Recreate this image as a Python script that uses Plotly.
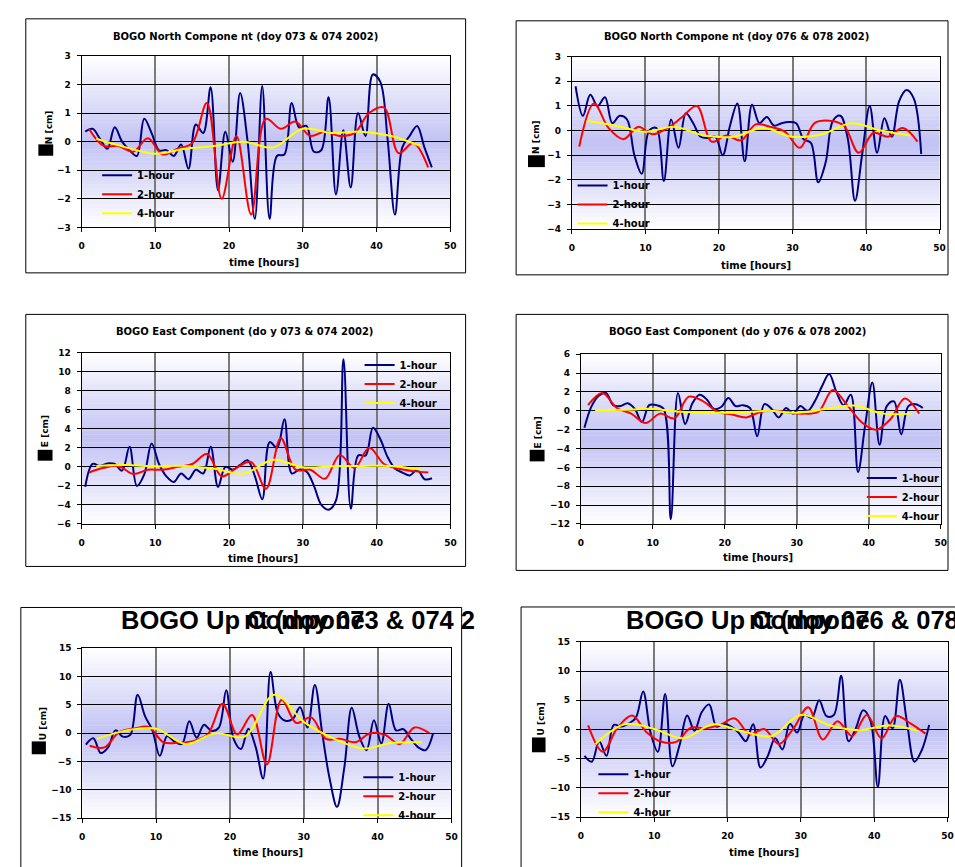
import plotly.graph_objects as go

# ---------------------------------------------------------------------------
# Sample times (hours) for the three averaging intervals
# ---------------------------------------------------------------------------
t_1h = [0.5, 1.5, 2.5, 3.5, 4.5, 5.5, 6.5, 7.5, 8.5, 9.5, 10.5, 11.5,
        12.5, 13.5, 14.5, 15.5, 16.5, 17.5, 18.5, 19.5, 20.5, 21.5, 22.5, 23.5,
        24.5, 25.5, 26.5, 27.5, 28.5, 29.5, 30.5, 31.5, 32.5, 33.5, 34.5, 35.5,
        36.5, 37.5, 38.5, 39.5, 40.5, 41.5, 42.5, 43.5, 44.5, 45.5, 46.5, 47.5]
t_2h = [1, 3, 5, 7, 9, 11, 13, 15, 17, 19, 21, 23,
        25, 27, 29, 31, 33, 35, 37, 39, 41, 43, 45, 47]
t_4h = [2, 6, 10, 14, 18, 22, 26, 30, 34, 38, 42, 46]

series_names = ["1-hour", "2-hour", "4-hour"]

# ---------------------------------------------------------------------------
# North component [cm]
# ---------------------------------------------------------------------------
north_073_1h = [0.35, 0.45, 0.1, -0.25, 0.5, 0.0, -0.3, -0.5, 0.8, 0.3, -0.3, -0.3,
                -0.5, -0.1, -0.95, 0.6, 0.3, 1.9, -1.7, 0.35, -0.7, 1.7, 0.05, -2.7,
                1.95, -2.7, -0.5, -0.45, 1.35, 0.5, 0.55, -0.35, -0.3, 1.55, -1.85, 0.4,
                -1.6, 1.0, 0.2, 2.35, 2.1, 0.1, -2.55, -0.2, 0.2, 0.55, -0.2, -0.9]
north_073_2h = [0.45, -0.15, -0.15, -0.35, 0.12, -0.45, -0.25, -0.05, 1.35, -2.0, 0.2, -2.55,
                0.8, 0.45, 0.7, 0.2, 0.35, 0.2, 0.3, 1.0, 1.2, -0.4, -0.05, -0.9]
north_073_4h = [0.1, -0.2, -0.42, -0.25, -0.15, 0.0, -0.2, 0.45, 0.3, 0.35, 0.2, -0.15]

north_076_1h = [1.8, 0.6, 1.45, 1.0, 1.35, 0.3, 0.6, 0.45, -1.0, -1.75, 0.0, 0.1,
                -2.05, 0.45, -0.7, 0.7, 0.3, -0.25, -0.3, -0.25, -1.0, 0.2, 1.1, -1.25,
                1.05, 0.3, 0.55, 0.2, 0.3, 0.35, 0.3, -0.35, -0.5, -2.1, -1.3, 0.4,
                0.6, -0.3, -2.85, -0.9, 1.0, -0.9, 0.5, -0.25, 1.2, 1.65, 1.3, -0.95]
north_076_2h = [-0.65, 1.1, 0.1, -0.35, 0.15, -0.15, 0.1, 0.55, 1.0, -0.45, -0.2, -0.4,
                0.25, 0.15, -0.05, -0.7, 0.3, 0.4, 0.2, -0.9, -0.1, -0.25, 0.1, -0.45]
north_076_4h = [0.4, 0.2, -0.05, 0.15, -0.2, -0.25, 0.1, -0.25, -0.15, 0.3, 0.0, -0.2]

# ---------------------------------------------------------------------------
# East component [cm]
# ---------------------------------------------------------------------------
east_073_1h = [-2.1, 0.3, 0.1, 0.35, 0.3, -0.4, 2.1, -2.0, -0.8, 2.45, 0.3, -1.0,
               -1.6, -0.7, -1.3, -0.3, -0.7, 2.1, -2.1, 0.0, -0.3, 0.2, 0.7, -1.0,
               -3.4, 2.6, 2.0, 5.0, -0.7, -0.3, -0.5, -2.0, -4.0, -4.5, -3.5, 11.3,
               -4.4, 1.2, 1.2, 4.1, 2.9, 1.0, -0.2, -0.6, -0.9, -0.3, -1.3, -1.2]
east_073_2h = [-0.6, -0.1, 0.1, -0.75, -0.3, -0.3, 0.0, 0.3, 1.35, -1.0, -0.1, 0.5,
               -2.3, 3.0, -0.3, -0.3, -1.25, 1.25, -0.1, 2.0, 0.3, -0.2, -0.45, -0.6]
east_073_4h = [0.1, 0.2, 0.05, 0.1, -0.2, -0.7, 0.75, -0.05, 0.05, 0.1, 0.1, -0.3]

east_076_1h = [-1.8, 0.5, 1.6, 1.9, 0.6, 0.5, 0.8, 0.2, -1.2, 0.6, 0.6, 0.2,
               -11.5, 1.9, -1.4, 0.8, 1.7, 1.2, 0.2, 0.4, 1.35, 0.5, 0.6, 0.3,
               -2.7, 0.7, 0.2, -0.7, 0.3, -0.3, 0.5, 0.0, 1.0, 2.6, 3.9, 2.0,
               0.6, 1.7, -6.5, -1.5, 3.0, -3.6, 0.5, 1.0, -2.5, 0.5, 0.7, 0.3]
east_076_2h = [0.6, 1.9, 0.3, -0.3, -1.3, -0.3, -0.8, 1.5, 1.0, -0.1, -0.4, -0.7,
               -0.1, 0.0, -0.2, -0.3, -0.1, 2.2, 0.6, -1.2, -2.0, -0.9, 1.3, -0.3]
east_076_4h = [0.05, 0.1, 0.2, -0.1, -0.2, -0.2, 0.0, -0.2, 0.2, 0.55, -0.3, -0.3]

# ---------------------------------------------------------------------------
# Up component [cm]
# ---------------------------------------------------------------------------
up_073_1h = [-2.0, -0.9, -3.5, -2.5, 0.5, -0.6, -0.3, 6.8, 3.0, 0.5, -4.0, -0.5,
             -1.5, -1.9, 2.1, -0.8, 1.5, 0.4, 1.0, 7.6, -1.0, -2.8, 0.8, -2.5,
             -8.0, 10.8, 3.5, 2.2, 2.5, 4.6, 1.0, 8.5, 0.0, -8.0, -13.0, -6.0,
             4.5, -0.5, -3.0, 2.3, -1.8, 5.2, 0.5, 0.7, -1.0, -2.5, -3.0, -0.1]
up_073_2h = [-2.2, -2.5, 0.2, 0.8, 1.1, -1.6, -1.7, -1.4, -0.2, 5.2, -0.2, 3.2,
             -5.5, 5.9, 1.8, 2.8, -1.0, -1.0, -1.6, 0.0, -0.3, -1.9, 1.0, 0.0]
up_073_4h = [-1.0, 0.5, 0.8, -1.9, 0.0, -0.6, 6.8, 2.0, -0.9, -2.7, -1.7, -1.6]

up_076_1h = [-4.5, -5.5, -2.0, -4.5, 0.8, 0.5, 1.0, 2.0, 6.5, -0.5, -3.8, 6.1,
             -6.3, -2.5, 2.4, -0.2, 3.0, 4.3, 0.5, 1.0, 0.5, -0.5, -2.0, 0.9,
             -6.5, -4.5, -1.5, -3.4, 1.0, -0.5, 2.5, 2.0, 5.0, 2.3, 2.5, 9.2,
             -2.0, 0.2, 3.3, 1.5, -9.8, 2.3, 0.2, 8.5, 1.0, -5.5, -3.5, 0.8]
up_076_2h = [0.7, -3.8, 0.3, 2.4, -0.5, -2.1, -2.1, 0.3, 0.2, 0.8, 1.9, -0.8,
             0.1, -2.5, 0.2, 3.8, -1.7, 1.4, -1.1, 2.5, -1.5, 2.3, 1.0, -0.7]
up_076_4h = [-2.5, 0.9, 0.1, -1.5, 0.9, -0.3, -1.1, 2.5, 0.7, -0.1, 0.7, -0.2]

# ---------------------------------------------------------------------------
# Page geometry helpers (pixel -> paper fraction)
# ---------------------------------------------------------------------------
FIG_W, FIG_H = 955, 867


def px(x):
    return x / FIG_W


def py(y):
    return 1 - y / FIG_H


LINE_COLORS = ["#000080", "#ff0000", "#ffff00"]
TEXT_FONT = "DejaVu Sans"
GRAD_MID = (194, 194, 244)

panels = [
    dict(series=(north_073_1h, north_073_2h, north_073_4h), yrange=(-3, 3), dtick=1,
         plot=(79.3, 51.5, 451.5, 225.0), frame=(23, 14, 467, 271),
         title="BOGO North Compone nt (doy 073 & 074 2002)", title_xy=(244.5, 31.7),
         ytitle="N [cm]", ytitle_xy=(46, 124), box=(35.7, 141, 50.7, 152.5),
         xtitle_xy=(263, 260.7), legend_xy=(103, 172)),
    dict(series=(north_076_1h, north_076_2h, north_076_4h), yrange=(-4, 3), dtick=1,
         plot=(574.3, 52.3, 945.5, 226.7), frame=(518, 16, 954, 273),
         title="BOGO North Compone nt (doy 076 & 078 2002)", title_xy=(740, 31.7),
         ytitle="N [cm]", ytitle_xy=(538.5, 133), box=(530, 152, 547, 164),
         xtitle_xy=(760, 263.3), legend_xy=(583, 182.5)),
    dict(series=(east_073_1h, east_073_2h, east_073_4h), yrange=(-6, 12), dtick=2,
         plot=(79.3, 351.7, 451.7, 525.0), frame=(23, 313, 467, 568),
         title="BOGO East Component (do y 073 & 074 2002)", title_xy=(244, 330.7),
         ytitle="E [cm]", ytitle_xy=(42.5, 431), box=(35, 450, 50, 461),
         xtitle_xy=(262.5, 560), legend_xy=(368, 364)),
    dict(series=(east_076_1h, east_076_2h, east_076_4h), yrange=(-12, 6), dtick=2,
         plot=(583.3, 353.3, 946.7, 525.0), frame=(518, 313, 954, 572),
         title="BOGO East Component (do y 076 & 078 2002)", title_xy=(741.7, 330),
         ytitle="E [cm]", ytitle_xy=(540.5, 432), box=(531.7, 450, 546.7, 461.7),
         xtitle_xy=(761.7, 559.3), legend_xy=(875, 478.3)),
    dict(series=(up_073_1h, up_073_2h, up_073_4h), yrange=(-15, 15), dtick=5,
         plot=(80.0, 650.7, 452.7, 822.7), frame=(18, 609.5, 463, 900),
         big_title=("BOGO Up Compone", "nt (doy 073 & 074 2"), big_xy=(117, 241, 622.5),
         ytitle="U [cm]", ytitle_xy=(40, 727), box=(29, 745, 43.3, 758),
         xtitle_xy=(267.5, 857), legend_xy=(366.7, 781)),
    dict(series=(up_076_1h, up_076_2h, up_076_4h), yrange=(-15, 15), dtick=5,
         plot=(583.3, 644.3, 953.5, 821.7), frame=(523, 609, 962, 900),
         big_title=("BOGO Up Compone", "nt (doy 076 & 078 2002)"), big_xy=(627, 751, 622.5),
         ytitle="U [cm]", ytitle_xy=(543, 722), box=(534, 741, 547.7, 756),
         xtitle_xy=(768.5, 857), legend_xy=(604, 778)),
]

fig = go.Figure()
shapes = []
annotations = []
layout_extra = {}

for i, p in enumerate(panels):
    n = i + 1
    sfx = "" if n == 1 else str(n)
    xid, yid = "x" + sfx, "y" + sfx
    legend_id = "legend" + sfx
    x0, y0, x1, y1 = p["plot"]

    # three smoothed series
    for name, ts, vals, col in zip(series_names, (t_1h, t_2h, t_4h), p["series"], LINE_COLORS):
        fig.add_trace(go.Scatter(
            x=ts, y=vals, name=name, mode="lines",
            line=dict(color=col, width=2, shape="spline", smoothing=1.0),
            xaxis=xid, yaxis=yid, legend=legend_id, showlegend=True,
            hoverinfo="skip"))

    tickfont = dict(family=TEXT_FONT, size=9, color="black", weight="bold")
    layout_extra["xaxis" + sfx] = dict(
        domain=[px(x0), px(x1)], anchor=yid, range=[0, 50],
        tickmode="linear", tick0=0, dtick=10,
        showgrid=True, gridcolor="#7a7a7a", gridwidth=1.5,
        showline=True, linecolor="black", linewidth=1, mirror=True,
        ticks="outside", ticklen=4, tickcolor="black", tickwidth=1,
        ticklabelstandoff=6, tickfont=tickfont, zeroline=False, fixedrange=True)
    ylo, yhi = p["yrange"]
    layout_extra["yaxis" + sfx] = dict(
        domain=[py(y1), py(y0)], anchor=xid, range=[ylo, yhi],
        tickmode="linear", tick0=ylo, dtick=p["dtick"],
        showgrid=True, gridcolor="black", gridwidth=1,
        showline=True, linecolor="black", linewidth=1, mirror=True,
        ticks="outside", ticklen=4, tickcolor="black", tickwidth=1,
        ticklabelstandoff=4, tickfont=tickfont, zeroline=False, fixedrange=True)

    # white -> lavender -> white background inside the plotting area
    nb = 44
    for k in range(nb):
        t0, t1 = k / nb, (k + 1) / nb
        tm = (t0 + t1) / 2
        w = 1 - abs(2 * tm - 1)
        r, g, b = (round(255 + (c - 255) * w) for c in GRAD_MID)
        shapes.append(dict(type="rect", xref=xid + " domain", yref=yid + " domain",
                           x0=0, x1=1, y0=1 - t1 - 0.002, y1=1 - t0,
                           fillcolor=f"rgb({r},{g},{b})", line=dict(width=0),
                           layer="below"))

    # chart frame
    fx0, fy0, fx1, fy1 = p["frame"]
    shapes.append(dict(type="rect", xref="paper", yref="paper",
                       x0=px(fx0), x1=px(fx1), y0=py(fy1), y1=py(fy0),
                       line=dict(color="black", width=1), fillcolor="rgba(0,0,0,0)",
                       layer="below"))

    # filled glyph box in front of the y-axis label
    bx0, by0, bx1, by1 = p["box"]
    shapes.append(dict(type="rect", xref="paper", yref="paper",
                       x0=px(bx0), x1=px(bx1), y0=py(by1), y1=py(by0),
                       line=dict(width=0), fillcolor="black", layer="above"))

    # titles
    if "title" in p:
        tx, ty = p["title_xy"]
        annotations.append(dict(text=p["title"], x=px(tx), y=py(ty), xref="paper", yref="paper",
                                xanchor="center", yanchor="middle", showarrow=False,
                                font=dict(family=TEXT_FONT, size=10, color="black", weight="bold")))
    else:
        run1, run2 = p["big_title"]
        bx_a, bx_b, by_ = p["big_xy"]
        for txt, bx in ((run1, bx_a), (run2, bx_b)):
            annotations.append(dict(text=txt, x=px(bx), y=py(by_), xref="paper", yref="paper",
                                    xanchor="left", yanchor="middle", showarrow=False,
                                    font=dict(family="Liberation Sans", size=25.5, color="black",
                                              weight="bold")))

    # axis titles
    xtx, xty = p["xtitle_xy"]
    annotations.append(dict(text="time [hours]", x=px(xtx), y=py(xty), xref="paper", yref="paper",
                            xanchor="center", yanchor="middle", showarrow=False,
                            font=dict(family=TEXT_FONT, size=10, color="black", weight="bold")))
    ytx, yty = p["ytitle_xy"]
    annotations.append(dict(text=p["ytitle"], x=px(ytx), y=py(yty), xref="paper", yref="paper",
                            xanchor="center", yanchor="middle", showarrow=False, textangle=-90,
                            font=dict(family=TEXT_FONT, size=9, color="black", weight="bold")))

    # legend
    lx, ly = p["legend_xy"]
    layout_extra[legend_id] = dict(
        x=px(lx - 8), y=py(ly - 14.5), xanchor="left", yanchor="top",
        xref="paper", yref="paper",
        bgcolor="rgba(0,0,0,0)", borderwidth=0, traceorder="normal",
        font=dict(family=TEXT_FONT, size=10, color="black", weight="bold"),
        itemclick=False, itemdoubleclick=False)

fig.update_layout(
    width=FIG_W, height=FIG_H, autosize=False,
    margin=dict(l=0, r=0, t=0, b=0, pad=0),
    paper_bgcolor="white", plot_bgcolor="white",
    shapes=shapes, annotations=annotations,
    **layout_extra)

fig.write_html("out.html")
